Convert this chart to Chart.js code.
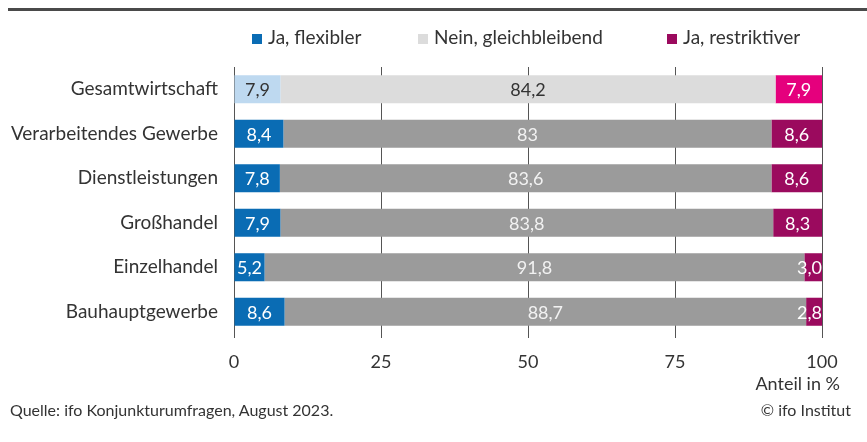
<!DOCTYPE html>
<html>
<head>
<meta charset="utf-8">
<script src="https://cdn.jsdelivr.net/npm/chart.js@4"></script>
<style>
  body { margin: 0; background: #fff; font-family: Lato, sans-serif; color: #333; }
  #wrap { position: relative; width: 867px; height: 442px; }
  #rule { position: absolute; left: 8px; right: 0; top: 8px; height: 3px; background: #4a4a4a; }
  .leg { position: absolute; top: 25px; font-size: 19px; white-space: nowrap; }
  .leg span { display: inline-block; width: 10px; height: 10px; margin-right: 6px; }
  .txt { position: absolute; font-size: 18px; white-space: nowrap; }
</style>
</head>
<body>
<div id="wrap">
  <div id="rule"></div>
  <div id="legend"></div>
  <canvas id="myChart" width="867" height="442"></canvas>
  <div class="txt" style="right:27px; top:372px;">Anteil in %</div>
  <div class="txt" style="left:10px; top:400px; font-size:16px;">Quelle: ifo Konjunkturumfragen, August 2023.</div>
  <div class="txt" style="right:16px; top:400px; font-size:16px;">© ifo Institut</div>
</div>
<script>
const categories = ['Gesamtwirtschaft', 'Verarbeitendes Gewerbe', 'Dienstleistungen', 'Großhandel', 'Einzelhandel', 'Bauhauptgewerbe'];
const flexibler = [7.9, 8.4, 7.8, 7.9, 5.2, 8.6];
const gleichbleibend = [84.2, 83, 83.6, 83.8, 91.8, 88.7];
const restriktiver = [7.9, 8.6, 8.6, 8.3, 3.0, 2.8];
const xTicks = [0, 25, 50, 75, 100];

const seriesNames = ['Ja, flexibler', 'Nein, gleichbleibend', 'Ja, restriktiver'];
const legendColors = ['#0a6cb4', '#dcdcdc', '#9b0a5e'];
const legendLeft = [252, 418, 667];

// first row (Gesamtwirtschaft) uses lighter shades
function rowColors(first, rest) {
  return categories.map((c, i) => i == 0 ? first : rest);
}

const data = {
  labels: categories,
  datasets: [
    { label: seriesNames[0], data: flexibler, backgroundColor: rowColors('#bed9f0', '#0a6cb4'), textColor: rowColors('#333', '#fff') },
    { label: seriesNames[1], data: gleichbleibend, backgroundColor: rowColors('#dcdcdc', '#9b9b9b'), textColor: rowColors('#333', '#f2f2f2') },
    { label: seriesNames[2], data: restriktiver, backgroundColor: rowColors('#e5007d', '#9b0a5e'), textColor: rowColors('#fff', '#fff') }
  ]
};

let legendHtml = '';
for (let i = 0; i < seriesNames.length; i++) {
  legendHtml += '<div class="leg" style="left:' + legendLeft[i] + 'px"><span style="background:' + legendColors[i] + '"></span>' + seriesNames[i] + '</div>';
}
document.getElementById('legend').innerHTML = legendHtml;

const valueLabels = {
  id: 'valueLabels',
  afterDatasetsDraw(chart) {
    const ctx = chart.ctx;
    const right = chart.chartArea.right;
    ctx.save();
    ctx.font = '18px Lato, sans-serif';
    ctx.textAlign = 'center';
    ctx.textBaseline = 'middle';
    chart.data.datasets.forEach((ds, di) => {
      chart.getDatasetMeta(di).data.forEach((bar, i) => {
        let v = ds.data[i];
        let s = Number.isInteger(v) && di == 2 ? v.toFixed(1) : String(v);
        s = s.replace('.', ',');
        let cx = (bar.x + bar.base) / 2;
        // keep small labels inside the plot on the right edge
        let w = ctx.measureText(s).width;
        if (cx + w / 2 > right) cx = right - w / 2;
        ctx.fillStyle = ds.textColor[i];
        ctx.fillText(s, cx, bar.y + 1);
      });
    });
    ctx.restore();
  }
};

const config = {
  type: 'bar',
  data: data,
  options: {
    indexAxis: 'y',
    responsive: false,
    animation: false,
    layout: { padding: { top: 67, right: 45, left: 0, bottom: 0 } },
    datasets: { bar: { barPercentage: 0.63, categoryPercentage: 1.0, borderWidth: 0 } },
    plugins: { legend: { display: false }, tooltip: { enabled: false } },
    scales: {
      x: {
        stacked: true,
        min: 0, max: 100,
        afterBuildTicks: (scale) => { scale.ticks = xTicks.map(v => ({ value: v })); },
        afterFit: (scale) => { scale.height = 108; },
        grid: { color: '#555', lineWidth: 1, tickLength: 4, drawTicks: true },
        border: { display: false },
        ticks: { color: '#333', font: { family: 'Lato', size: 18 }, padding: 13 }
      },
      y: {
        stacked: true,
        afterFit: (scale) => { scale.width = 234; },
        grid: { display: false, drawTicks: false },
        border: { display: false },
        ticks: { color: '#333', font: { family: 'Lato', size: 19 }, padding: 16 }
      }
    }
  },
  plugins: [valueLabels]
};

const myChart = new Chart(document.getElementById('myChart'), config);
</script>
</body>
</html>
